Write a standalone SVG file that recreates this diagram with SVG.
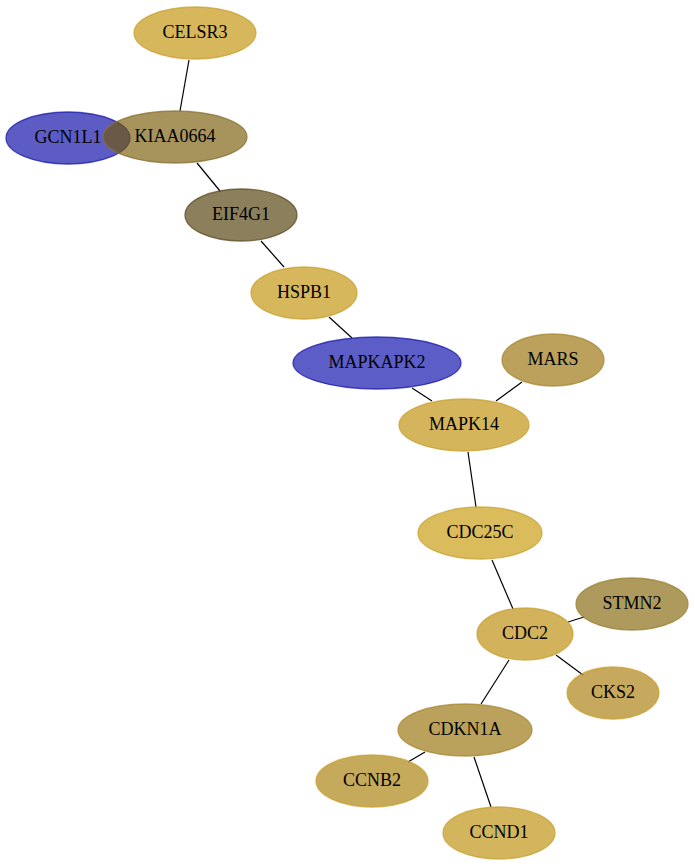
<svg xmlns="http://www.w3.org/2000/svg" width="695" height="867" viewBox="0 0 695 867">
<style>
.n ellipse{fill-opacity:0.64;stroke-opacity:0.75;stroke-width:1.3}
.n text{font-family:"Liberation Serif","Times New Roman",serif;font-size:18px;text-anchor:middle;fill:#000}
.e line{stroke:#000;stroke-width:1.2}
.y ellipse{stroke:#c9a030}
.b ellipse{stroke:#1a1aa8}
</style>
<rect width="695" height="867" fill="#fff"/>
<g class="e" id="edges">
<line x1="189" y1="60" x2="180" y2="111"/>
<line x1="197" y1="163" x2="220" y2="191"/>
<line x1="261" y1="241" x2="284" y2="267"/>
<line x1="329" y1="317" x2="352" y2="338"/>
<line x1="412" y1="388" x2="432" y2="401"/>
<line x1="522" y1="382" x2="496" y2="401"/>
<line x1="468" y1="452" x2="476" y2="507"/>
<line x1="492" y1="560" x2="513" y2="609"/>
<line x1="568" y1="622" x2="584" y2="617"/>
<line x1="556" y1="655" x2="583" y2="675"/>
<line x1="509" y1="660" x2="481" y2="704"/>
<line x1="425" y1="752" x2="408" y2="762"/>
<line x1="474" y1="757" x2="491" y2="807"/>
</g>
<g class="n y" id="CELSR3"><ellipse cx="195" cy="33" rx="61" ry="26" fill="#bf8f00"/><text x="195" y="38">CELSR3</text></g>
<g class="n b" id="GCN1L1"><ellipse cx="68" cy="138" rx="62" ry="26" fill="#0000a3"/><text x="68" y="143">GCN1L1</text></g>
<g class="n y" id="KIAA0664"><ellipse cx="175" cy="137" rx="72" ry="26" fill="#745800" style="stroke:#8a7030"/><text x="175" y="142">KIAA0664</text></g>
<g class="n y" id="EIF4G1"><ellipse cx="241" cy="215" rx="56" ry="26" fill="#4a3700" style="stroke:#5a4a20"/><text x="241" y="220">EIF4G1</text></g>
<g class="n y" id="HSPB1"><ellipse cx="304" cy="293" rx="53" ry="26" fill="#bf8f00"/><text x="304" y="298">HSPB1</text></g>
<g class="n b" id="MAPKAPK2"><ellipse cx="377" cy="363" rx="84" ry="26" fill="#0202a9"/><text x="377" y="368">MAPKAPK2</text></g>
<g class="n y" id="MARS"><ellipse cx="553" cy="360" rx="51" ry="26" fill="#956c00" style="stroke:#a88530"/><text x="553" y="365">MARS</text></g>
<g class="n y" id="MAPK14"><ellipse cx="464" cy="425" rx="65" ry="26" fill="#bc8b00"/><text x="464" y="430">MAPK14</text></g>
<g class="n y" id="CDC25C"><ellipse cx="480" cy="533" rx="62" ry="26" fill="#c79600"/><text x="480" y="538">CDC25C</text></g>
<g class="n y" id="CDC2"><ellipse cx="525" cy="634" rx="48" ry="26" fill="#b98800"/><text x="525" y="639">CDC2</text></g>
<g class="n y" id="STMN2"><ellipse cx="632" cy="604" rx="56" ry="26" fill="#806100" style="stroke:#9a8030"/><text x="632" y="609">STMN2</text></g>
<g class="n y" id="CKS2"><ellipse cx="613" cy="693" rx="46" ry="26" fill="#a67900"/><text x="613" y="698">CKS2</text></g>
<g class="n y" id="CDKN1A"><ellipse cx="465" cy="730" rx="67" ry="26" fill="#956e00" style="stroke:#a88530"/><text x="465" y="735">CDKN1A</text></g>
<g class="n y" id="CCNB2"><ellipse cx="372" cy="781" rx="56" ry="26" fill="#a47a00"/><text x="372" y="786">CCNB2</text></g>
<g class="n y" id="CCND1"><ellipse cx="499" cy="833" rx="56" ry="26" fill="#b98c00"/><text x="499" y="838">CCND1</text></g>
</svg>
